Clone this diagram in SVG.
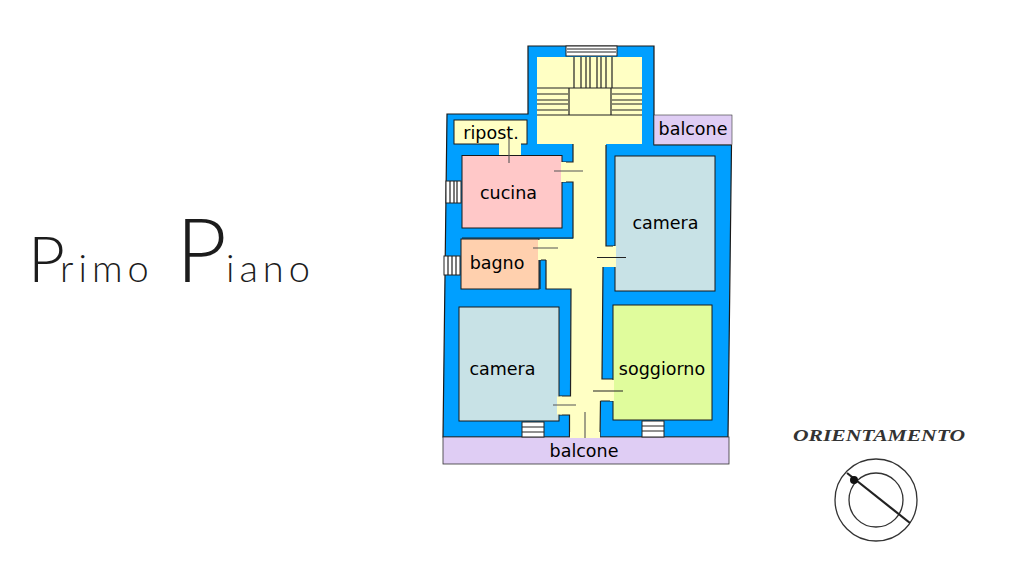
<svg xmlns="http://www.w3.org/2000/svg" width="1030" height="564" viewBox="0 0 1030 564">
<style>
.lbl{font-family:"DejaVu Sans",sans-serif;font-size:17.500px;fill:#000;text-anchor:middle}
.room{stroke:#1a1a1a;stroke-width:1}
.ln{stroke:#222;fill:none;stroke-width:1.200}
.dr{stroke:#555;fill:none;stroke-width:1.100}
.win{fill:#fff;stroke:#222;stroke-width:1}
.hand{font-family:"Lato","Open Sans",sans-serif;font-weight:300;fill:#1c1c1c}
</style>
<rect width="1030" height="564" fill="#fff"/>
<g id="walls">
<path d="M528 46H654V145H731.500L728 437H443L447 114H528Z" fill="#009fff" stroke="#1a1a1a" stroke-width="1.200"/>
<path d="M537 57H642V144H606V246H615V267H603L602 379H613V401H600.500L600 437H569.500V415H557V396H570.500L571 289H546V260H539V239H573V182H562V162H573V144H537Z" fill="#ffffc4"/>
<path class="ln" d="M573 144V162H562M562 182H573V238H462M546 260H540V289M546 260V289H571L570.500 396H559M557 415H569.500V437M606 145V246H615M603 267L602 379H613M600.500 401L600 437M600.500 401H613"/>
</g>
<g id="stairs">
<path class="ln" stroke-width="1.500" d="M537 88H642M537 94H568M537 100H568M537 104H568M537 110H568M537 115H642M612 94H642M612 100H642M612 104H642M612 110H642M569 88V115M611 88V115M574 57V88M581 57V88M586 57V88M590 57V88M597 57V88M601 57V88M606 57V88M612 57V88"/>
</g>
<g id="ripostiglio">
<rect class="room" x="454" y="120" width="73" height="24" fill="#ffffc4"/>
<rect x="499" y="143" width="22" height="13" fill="#ffffc4"/>
<text class="lbl" x="491" y="139">ripost.</text>
</g>
<g id="cucina">
<rect class="room" x="462" y="155.500" width="100" height="72.500" fill="#ffc8c8"/>
<rect x="561" y="162" width="5" height="20" fill="#ffffc4"/>
<text class="lbl" x="508.500" y="199">cucina</text>
</g>
<g id="bagno">
<rect class="room" x="461" y="239" width="78" height="50" fill="#ffd0ae"/>
<rect x="538" y="240" width="3" height="20" fill="#ffffc4"/>
<text class="lbl" x="497" y="269">bagno</text>
</g>
<g id="camera-nord">
<rect class="room" x="615" y="156" width="100" height="135" fill="#c8e2e6"/>
<rect x="613" y="246" width="3" height="21" fill="#ffffc4"/>
<text class="lbl" x="665.500" y="229">camera</text>
</g>
<g id="soggiorno">
<rect class="room" x="613" y="305" width="99" height="115" fill="#e0fc9c"/>
<rect x="610" y="380" width="4" height="21" fill="#ffffc4"/>
<text class="lbl" x="662" y="375">soggiorno</text>
</g>
<g id="camera-sud">
<rect class="room" x="459" y="307" width="100" height="114" fill="#c8e2e6"/>
<rect x="557" y="396.500" width="5" height="18" fill="#ffffc4"/>
<text class="lbl" x="502.500" y="375">camera</text>
</g>
<g id="balcone-nord">
<rect x="654" y="115" width="78" height="29.500" fill="#dfcdf4" stroke="#333" stroke-width="0.600"/>
<text class="lbl" x="693" y="135">balcone</text>
</g>
<g id="balcone-sud">
<rect x="443" y="437" width="286" height="27" fill="#dfcdf4" stroke="#333" stroke-width="0.800"/>
<rect x="570" y="432" width="30" height="6" fill="#ffffc4"/>
<text class="lbl" x="584" y="457">balcone</text>
</g>
<g id="finestre">
<rect class="win" x="566" y="46" width="51" height="10"/>
<path class="ln" d="M567 49H616M567 52H616"/>
<rect class="win" x="446" y="181" width="15" height="22"/>
<path class="ln" d="M450 181V203M454 181V203M457 181V203"/>
<rect class="win" x="444" y="256" width="16" height="19"/>
<path class="ln" d="M448 256V275M452 256V275M456 256V275"/>
<rect class="win" x="522" y="422" width="22" height="15"/>
<path class="ln" d="M522 427H544M522 432H544"/>
<rect class="win" x="642" y="421" width="22" height="16"/>
<path class="ln" d="M642 426H664M642 431H664"/>
</g>
<g id="connettori">
<path class="dr" d="M509 138V163M554 171H583M533 248H558M553 405H576M585 412V438"/>
<path class="ln" stroke-width="2" d="M597 257.500H626M593 391H623"/>
</g>
<g id="titolo">
<text class="hand" y="282"><tspan x="28" font-size="64">P</tspan><tspan x="60" font-size="38" letter-spacing="5">rimo</tspan><tspan x="176" font-size="88">P</tspan><tspan x="226" font-size="38" letter-spacing="5">iano</tspan></text>
</g>
<g id="orientamento">
<text x="793" y="441" font-family="Liberation Serif,serif" font-size="16" font-weight="bold" font-style="italic" fill="#333" textLength="172" lengthAdjust="spacingAndGlyphs">ORIENTAMENTO</text>
<circle cx="876" cy="500" r="41" fill="none" stroke="#333" stroke-width="1.300"/>
<circle cx="876" cy="500" r="27" fill="none" stroke="#333" stroke-width="1.300"/>
<path d="M847 473L910 523" stroke="#222" stroke-width="2.200"/>
<circle cx="854" cy="480" r="4" fill="#111"/>
</g>
</svg>
